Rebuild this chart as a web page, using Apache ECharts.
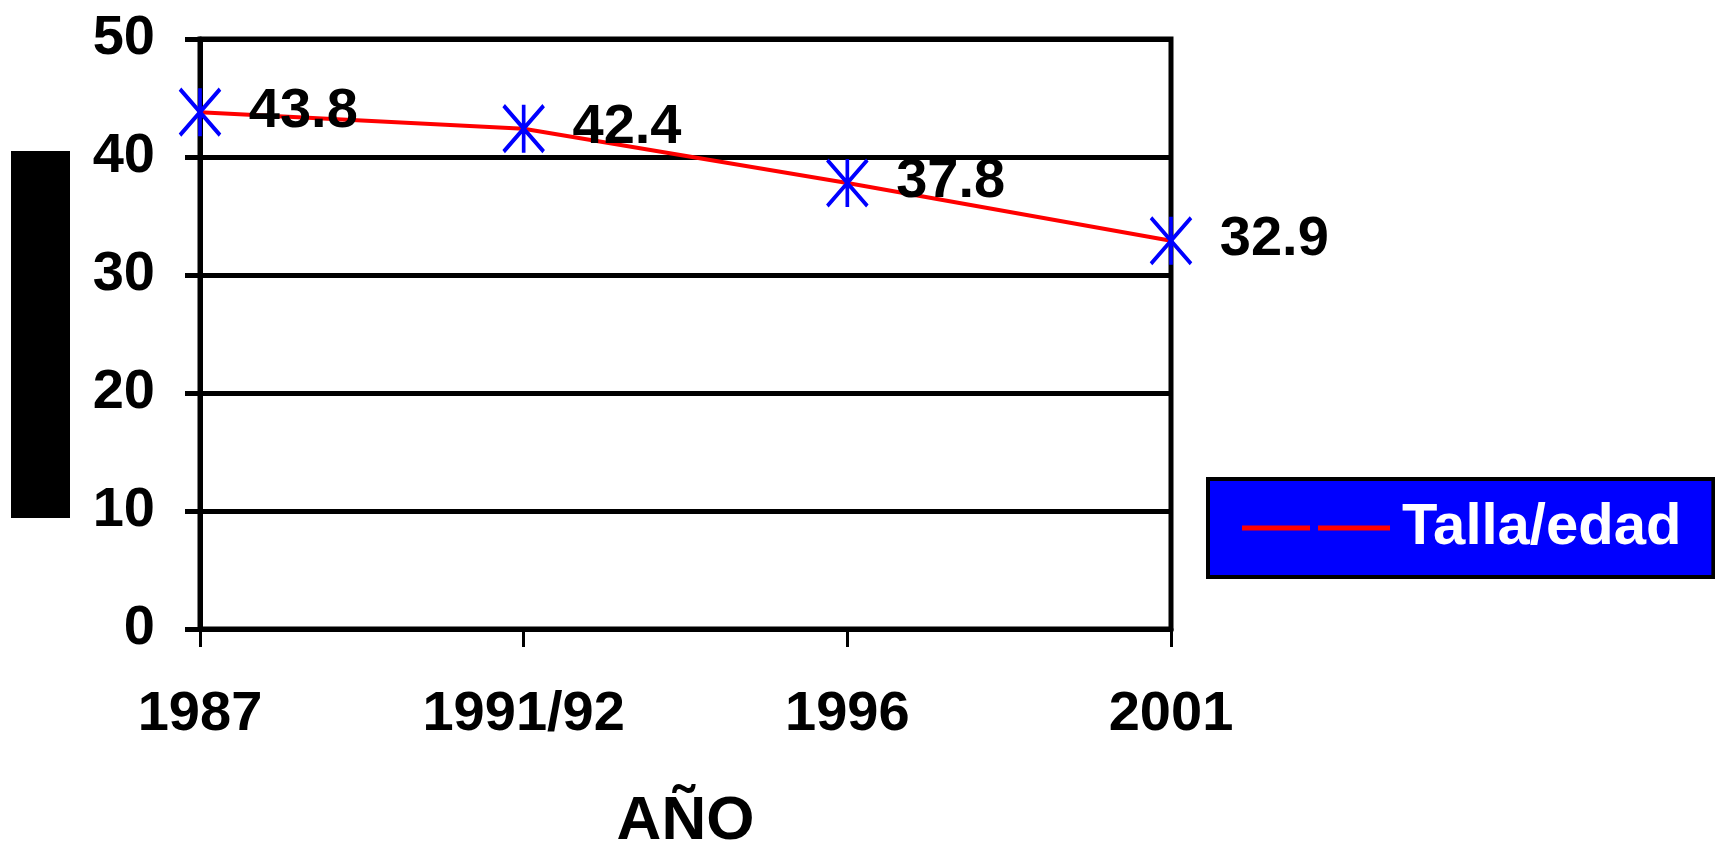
<!DOCTYPE html>
<html>
<head>
<meta charset="utf-8">
<script src="https://cdn.jsdelivr.net/npm/echarts@6/dist/echarts.min.js"></script>
<style>html,body{margin:0;padding:0;background:#fff;}#c{width:1715px;height:849px;}</style>
</head>
<body>
<div id="c"></div>
<script>
var categories = ['1987', '1991/92', '1996', '2001'];
var tallaEdad = [43.8, 42.4, 37.8, 32.9];
var seriesName = 'Talla/edad';
var xAxisName = 'AÑO';
var yTicks = {min: 0, max: 50, interval: 10};

var FONT = "'Liberation Sans Narrow', 'Arial Narrow', 'Liberation Sans', Arial, sans-serif";
var chart = echarts.init(document.getElementById('c'), null, {renderer: 'canvas'});
chart.setOption({
  backgroundColor: '#ffffff',
  animation: false,
  grid: {left: 200, right: 544, top: 39, bottom: 220, outerBoundsMode: 'none', containLabel: false, show: true, borderColor: '#000', borderWidth: 5, backgroundColor: 'transparent'},
  legend: {
    left: 1208, top: 479,
    backgroundColor: '#0000ff', borderColor: '#000', borderWidth: 4,
    padding: [18, 32, 18, 34],
    itemWidth: 148, itemHeight: 5,
    icon: 'path://M0,0 H68 V5 H0 Z M76,0 H148 V5 H76 Z',
    itemStyle: {color: '#ff0000', borderWidth: 0},
    textStyle: {color: '#ffffff', fontFamily: FONT, fontWeight: 'bold', fontSize: 58, lineHeight: 62, padding: [0,0,0,7]},
    data: [seriesName]
  },
  xAxis: {
    type: 'category', data: categories, boundaryGap: false,
    name: xAxisName, nameLocation: 'middle', nameGap: 162,
    nameTextStyle: {fontFamily: FONT, fontWeight: 'bold', fontSize: 62, color: '#000'},
    axisLine: {show: true, lineStyle: {color: '#000', width: 5}},
    axisTick: {show: true, length: 18, lineStyle: {color: '#000', width: 3}, alignWithLabel: true},
    axisLabel: {fontFamily: FONT, fontWeight: 'bold', fontSize: 56, color: '#000', margin: 58},
    splitLine: {show: false}
  },
  yAxis: {
    type: 'value', min: yTicks.min, max: yTicks.max, interval: yTicks.interval,
    axisLine: {show: true, lineStyle: {color: '#000', width: 5}},
    axisTick: {show: true, length: 15, lineStyle: {color: '#000', width: 5}},
    axisLabel: {fontFamily: FONT, fontWeight: 'bold', fontSize: 56, color: '#000', margin: 45},
    splitLine: {show: true, lineStyle: {color: '#000', width: 5}}
  },
  series: [{
    name: seriesName, type: 'line', data: tallaEdad,
    lineStyle: {color: '#ff0000', width: 4},
    itemStyle: {color: 'rgba(0,0,0,0)', borderColor: '#0000ff', borderWidth: 4},
    symbol: 'path://M20,0 L20,48 M0,1 L40,47 M0,47 L40,1',
    symbolSize: [40, 48], symbolKeepAspect: false,
    label: {show: true, position: 'right', distance: 27, offset: [0, -1], fontFamily: FONT, fontWeight: 'bold', fontSize: 56, color: '#000'},
    z: 5
  }],
  graphic: [{type: 'rect', left: 11, top: 151, shape: {width: 59, height: 367}, style: {fill: '#000'}}]
});
</script>
</body>
</html>
